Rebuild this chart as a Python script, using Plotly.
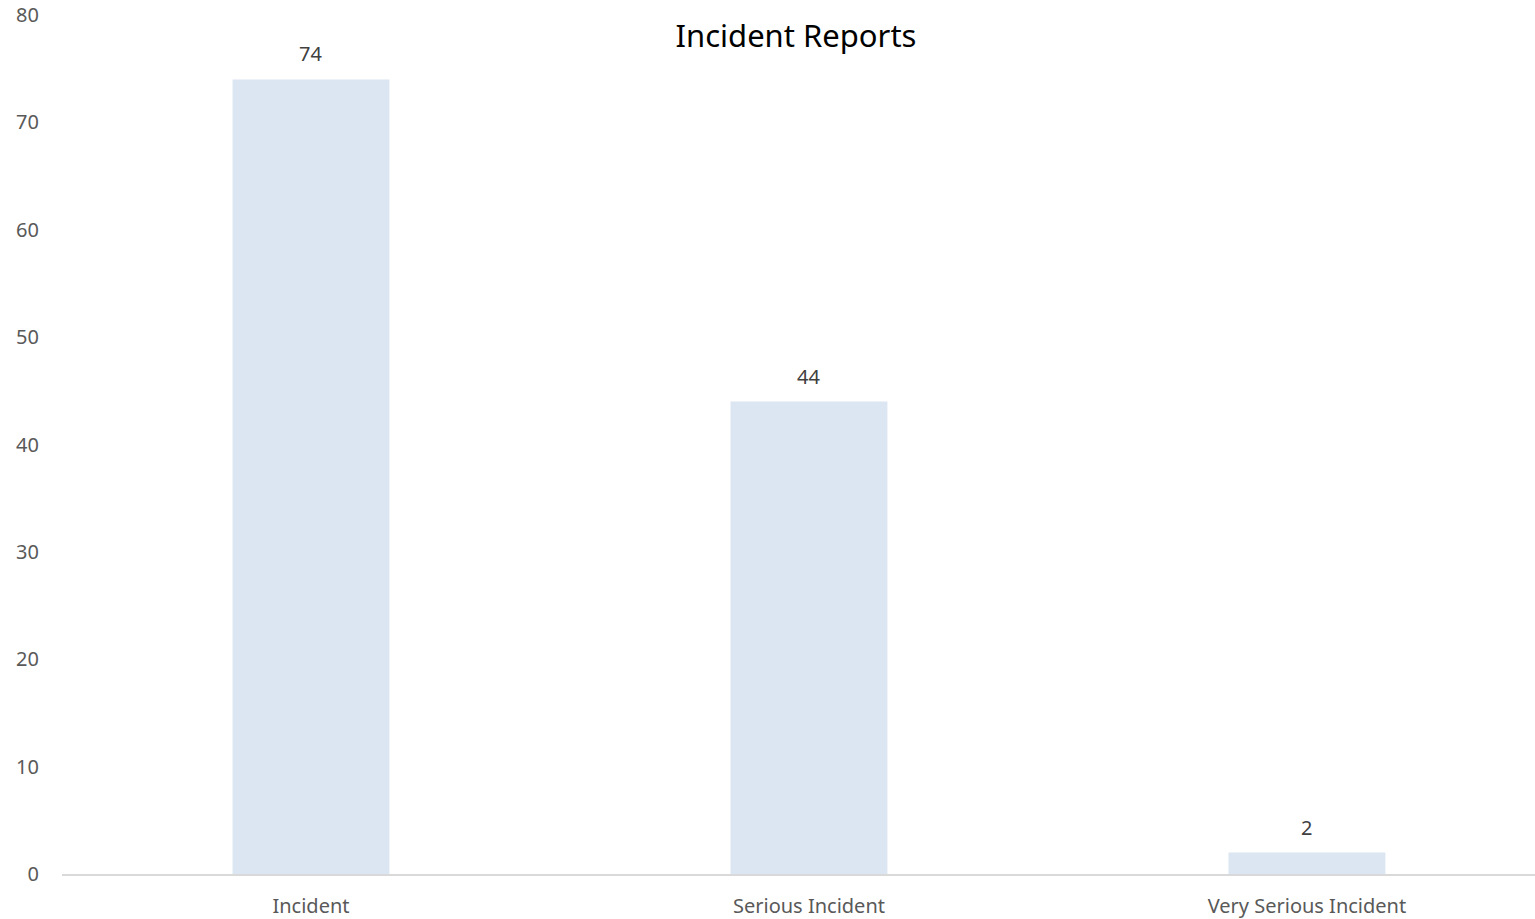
import plotly.graph_objects as go

categories = ["Incident", "Serious Incident", "Very Serious Incident"]
values = [74, 44, 2]
y_ticks = [0, 10, 20, 30, 40, 50, 60, 70, 80]

FONT = "Noto Sans"
fig = go.Figure()
fig.add_trace(go.Bar(
    x=categories, y=values,
    marker=dict(color="#dce6f2", line=dict(width=0)),
    width=0.315,
    hoverinfo="x+y",
))
for c, v in zip(categories, values):
    fig.add_annotation(x=c, y=v, text=str(v), showarrow=False,
                       yanchor="bottom", yshift=10,
                       font=dict(family=FONT, size=20, color="#404040"))

fig.update_layout(
    width=1535, height=919,
    margin=dict(l=62, r=0, t=15, b=45, pad=0, autoexpand=False),
    paper_bgcolor="white", plot_bgcolor="white",
    showlegend=False,
    title=dict(text="Incident Reports", x=796/1535, xanchor="center",
               y=1-36/919, yanchor="middle",
               font=dict(family=FONT, size=31, color="#000000")),
    xaxis=dict(range=[-0.5, 2.458], showgrid=False, showline=True,
               linecolor="#d9d9d9", linewidth=1.5, ticks="",
               tickfont=dict(family=FONT, size=20, color="#595959"),
               ticklabelstandoff=13, ticklabeloverflow="allow",
               automargin=False),
    yaxis=dict(range=[0, 80], tickvals=y_ticks, showgrid=False,
               zeroline=False, showline=False, ticks="",
               tickfont=dict(family=FONT, size=20, color="#595959"),
               ticklabelstandoff=22, ticklabeloverflow="allow",
               automargin=False),
)
fig.write_html("out.html",
               config={"displayModeBar": False},
               post_script="document.body.style.margin='0';document.body.style.overflow='hidden';")
